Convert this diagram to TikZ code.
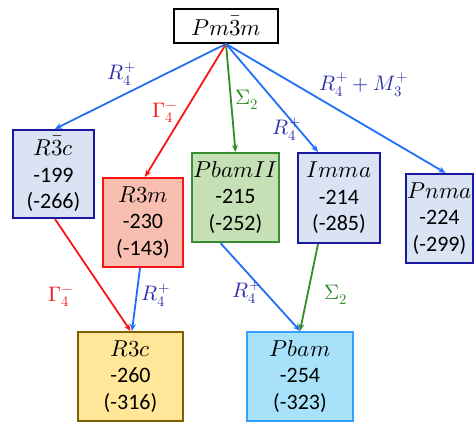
\documentclass[tikz,border=0pt]{standalone}
\usepackage{fontspec}
\usepackage{unicode-math}
\setmainfont{Carlito}
\setmathfont{Latin Modern Math}
\usetikzlibrary{arrows.meta,calc}
\definecolor{arrblue}{RGB}{30,112,250}
\definecolor{arrred}{RGB}{250,20,20}
\definecolor{arrgreen}{RGB}{50,140,40}
\definecolor{lblblue}{RGB}{46,46,170}
\definecolor{fillgray}{RGB}{218,227,243}
\definecolor{borddark}{RGB}{25,25,160}
\definecolor{fillsalmon}{RGB}{248,190,175}
\definecolor{fillgreen}{RGB}{197,224,180}
\definecolor{bordgreen}{RGB}{56,140,50}
\definecolor{fillyellow}{RGB}{255,230,153}
\definecolor{bordbrown}{RGB}{127,96,0}
\definecolor{fillcyan}{RGB}{168,226,250}
\definecolor{bordcyan}{RGB}{52,160,255}
\newcommand{\grp}[1]{{\fontsize{23}{26.5}\selectfont$#1$}}
\tikzset{
  phase/.style={draw, line width=2.2pt, align=center, inner sep=0pt,
    font=\fontsize{22}{26.5}\selectfont},
  conn/.style={line width=1.8pt, -{Stealth[length=7pt,width=6pt]}},
  barrow/.style={conn, draw=arrblue},
  rarrow/.style={conn, draw=arrred},
  garrow/.style={conn, draw=arrgreen},
  lbl/.style={font=\fontsize{21}{24}\selectfont, inner sep=0pt},
}
\begin{document}
\begin{tikzpicture}[x=1pt,y=1pt]
\useasboundingbox (0,0) rectangle (476,-421);
\clip (0,0) rectangle (476,-421);
\node[phase, minimum width=104, minimum height=34, line width=1.8pt] (top) at (226,-26) {\grp{Pm\bar{3}m}};
\node[phase, fill=fillgray, draw=borddark, minimum width=81, minimum height=88] (r3bc) at (53.5,-174) {\grp{R\bar{3}c}\\-199\\(-266)};
\node[phase, fill=fillsalmon, draw=arrred, minimum width=80, minimum height=89] (r3m) at (143,-222.5) {\grp{R3m}\\-230\\(-143)};
\node[phase, fill=fillgreen, draw=bordgreen, minimum width=87, minimum height=89] (pbamii) at (235.5,-197.5) {\grp{PbamII}\\-215\\(-252)};
\node[phase, fill=fillgray, draw=borddark, minimum width=82, minimum height=90] (imma) at (339,-198) {\grp{Imma}\\-214\\(-285)};
\node[phase, fill=fillgray, draw=borddark, minimum width=67, minimum height=89] (pnma) at (439.5,-218.5) {\grp{Pnma}\\-224\\(-299)};
\node[phase, fill=fillyellow, draw=bordbrown, minimum width=105, minimum height=89] (r3c) at (130.5,-376.5) {\grp{R3c}\\-260\\(-316)};
\node[phase, fill=fillcyan, draw=bordcyan, minimum width=106, minimum height=89] (pbam) at (300,-376.5) {\grp{Pbam}\\-254\\(-323)};
\draw[barrow] (top.south) -- ($(r3bc.north)+(1.5,0)$);
\draw[rarrow] (top.south) -- ($(r3m.north)+(2,0)$);
\draw[garrow] (top.south) -- (pbamii.north);
\draw[barrow] (top.south) -- ($(imma.north)+(-21,0)$);
\draw[barrow] (top.south) -- ($(pnma.north)+(6,0)$);
\draw[rarrow] ($(r3bc.south)+(1.5,0)$) -- (r3c.north);
\draw[barrow] ($(r3m.south)+(-3,0)$) -- ($(r3c.north)+(1.5,0)$);
\draw[barrow] ($(pbamii.south)+(-15,0)$) -- (pbam.north);
\draw[garrow] ($(imma.south)+(-21,0)$) -- (pbam.north);
\node[lbl, text=lblblue] (l1) at (122,-74) {$R_4^+$};
\node[lbl, text=arrred] (l2) at (165,-113) {$\Gamma_4^-$};
\node[lbl, text=arrgreen] (l3) at (247,-100) {$\Sigma_2$};
\node[lbl, text=lblblue] (l4) at (287,-129) {$R_4^+$};
\node[lbl, text=lblblue] (l5) at (364,-85) {$R_4^+ + M_3^+$};
\node[lbl, text=arrred] (l6) at (61,-297) {$\Gamma_4^-$};
\node[lbl, text=lblblue] (l7) at (156,-295) {$R_4^+$};
\node[lbl, text=lblblue] (l8) at (247,-292) {$R_4^+$};
\node[lbl, text=arrgreen] (l9) at (336,-295) {$\Sigma_2$};
\end{tikzpicture}
\end{document}
